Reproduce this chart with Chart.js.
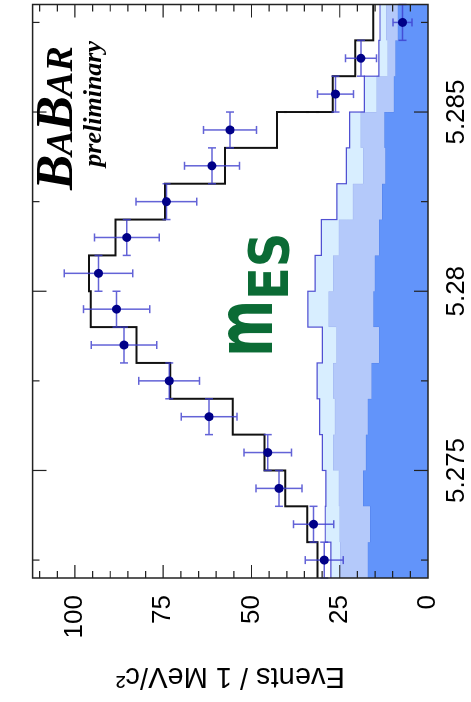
<!DOCTYPE html>
<html><head><meta charset="utf-8">
<script src="https://cdn.jsdelivr.net/npm/chart.js@4.4.1/dist/chart.umd.min.js"></script>
<style>
html,body{margin:0;padding:0;background:#fff;overflow:hidden;width:471px;height:702px;}
#wrap{position:absolute;left:0;top:0;width:702px;height:471px;transform-origin:0 0;transform:translate(0px,702px) rotate(-90deg);background:#fff;}
canvas{display:block;}
</style></head><body>
<div id="wrap"><canvas id="c" width="702" height="471"></canvas></div>
<script>
// mES bin centres (GeV/c^2), 1 MeV bins
const binCenters = [5.2725,5.2735,5.2745,5.2755,5.2765,5.2775,5.2785,5.2795,5.2805,5.2815,5.2825,5.2835,5.2845,5.2855,5.2865,5.2875];
// data points and their errors (events / 1 MeV)
const dataValues = [29.4,32.4,42.2,45.4,62.0,73.3,86.1,88.2,93.3,85.3,74.1,61.2,56.1,26.2,19.0,7.2];
const dataErrors = [5.4,5.7,6.5,6.7,7.9,8.6,9.3,9.4,9.7,9.2,8.6,7.8,7.5,5.1,4.4,2.7];
// total fit (black histogram)
const totalFit = [31.3,34.2,40.4,46.3,55.3,73.0,82.6,95.5,96.0,88.5,74.5,57.5,42.8,27.0,20.6,15.5];
// stacked background components (cumulative tops)
const bkgDark  = [17.1,16.4,18.4,17.6,17.1,16.0,13.9,15.5,15.1,13.9,13.0,12.1,12.4,9.7,9.3,8.6];
const bkgMid   = [24.9,25.1,25.3,26.9,26.4,26.9,26.0,28.2,26.9,25.3,21.3,18.4,19.1,14.6,11.5,11.9];
const bkgLight = [27.5,29.1,28.9,29.9,30.7,31.4,29.9,34.0,32.0,30.2,25.8,23.1,22.2,18.0,13.9,13.6];
// axis ticks
const xTickLabels = [5.275,5.28,5.285];
const xMinorTicks = [5.2725,5.275,5.2775,5.28,5.2825,5.285,5.2875];
const yTickLabels = [0,25,50,75,100];
const yMinorStep = 5;
const xRange = [5.272,5.288];
const yRange = [0,112];

const halfBin = 0.0005;
function stepPoints(vals){
  const pts = vals.map((v,i)=>({x: binCenters[i]-halfBin, y: v}));
  pts.push({x: binCenters[binCenters.length-1]+halfBin, y: vals[vals.length-1]});
  return pts;
}

const decor = {
  id:'decor',
  beforeDatasetDraw(chart, args){
    if (args.index !== 4) return;
    const ctx = chart.ctx, xs = chart.scales.x, ys = chart.scales.y;
    ctx.save();
    ctx.strokeStyle = 'rgba(60,60,205,0.8)';
    ctx.lineWidth = 1.5;
    const cap = 4;
    dataValues.forEach((v,i)=>{
      const px = xs.getPixelForValue(binCenters[i]);
      const py = ys.getPixelForValue(v);
      const y1 = ys.getPixelForValue(v - dataErrors[i]);
      const y2 = ys.getPixelForValue(v + dataErrors[i]);
      const x1 = xs.getPixelForValue(binCenters[i]-halfBin);
      const x2 = xs.getPixelForValue(binCenters[i]+halfBin);
      ctx.beginPath();
      ctx.moveTo(px,y1); ctx.lineTo(px,y2);
      ctx.moveTo(px-cap,y1); ctx.lineTo(px+cap,y1);
      ctx.moveTo(px-cap,y2); ctx.lineTo(px+cap,y2);
      ctx.moveTo(x1,py); ctx.lineTo(x2,py);
      ctx.moveTo(x1,py-cap); ctx.lineTo(x1,py+cap);
      ctx.moveTo(x2,py-cap); ctx.lineTo(x2,py+cap);
      ctx.stroke();
    });
    ctx.restore();
  },
  afterDraw(chart){
    const ctx = chart.ctx, xs = chart.scales.x, ys = chart.scales.y, a = chart.chartArea;
    ctx.save();
    ctx.strokeStyle = '#222';
    ctx.lineWidth = 1.5;
    ctx.strokeRect(a.left, a.top, a.right-a.left, a.bottom-a.top);
    ctx.lineWidth = 1.2;
    ctx.beginPath();
    xMinorTicks.forEach(t=>{
      const p = xs.getPixelForValue(t);
      const len = xTickLabels.some(m=>Math.abs(m-t)<1e-9) ? 14 : 7;
      ctx.moveTo(p, a.bottom); ctx.lineTo(p, a.bottom-len);
      ctx.moveTo(p, a.top); ctx.lineTo(p, a.top+len);
    });
    for (let t = yMinorStep; t < yRange[1]; t += yMinorStep){
      const p = ys.getPixelForValue(t);
      const len = (t % 25 === 0) ? 13 : 7;
      ctx.moveTo(a.left, p); ctx.lineTo(a.left+len, p);
      ctx.moveTo(a.right, p); ctx.lineTo(a.right-len, p);
    }
    ctx.stroke();

    // BaBar logo
    ctx.fillStyle = '#000';
    ctx.textBaseline = 'alphabetic';
    let u = 512;
    const parts = [['B',53],['A',38],['B',53],['AR',38]];
    parts.forEach(([s,sz])=>{
      ctx.font = 'italic bold '+sz+'px "Liberation Serif"';
      ctx.fillText(s, u, 72);
      u += ctx.measureText(s).width - 1;
    });
    ctx.font = 'italic bold 26px "Liberation Serif"';
    ctx.textAlign = 'right';
    ctx.fillText('preliminary', 661, 101);
    ctx.textAlign = 'left';

    // m_ES label
    ctx.fillStyle = '#0b6b35';
    ctx.save();
    ctx.translate(345, 272); ctx.scale(1, 1.43);
    ctx.font = 'bold 55px "DejaVu Sans"';
    ctx.fillText('m', 0, 0);
    ctx.restore();
    ctx.save();
    ctx.translate(402, 288); ctx.scale(1, 1.14);
    ctx.font = 'bold 48px "DejaVu Sans"';
    ctx.fillText('ES', 0, 0);
    ctx.restore();
    ctx.restore();
  }
};

const tickFont = {family:'"Liberation Sans", Arial, sans-serif', size:26};

new Chart(document.getElementById('c'), {
  type:'line',
  data:{datasets:[
    {label:'bkg1', data: stepPoints(bkgDark), stepped:true, fill:'origin',
     backgroundColor:'rgb(98,148,250)', borderColor:'rgb(85,130,235)', borderWidth:1, pointRadius:0, order:5},
    {label:'bkg2', data: stepPoints(bkgMid), stepped:true, fill:'-1',
     backgroundColor:'rgb(180,201,250)', borderColor:'rgb(160,182,240)', borderWidth:1, pointRadius:0, order:4},
    {label:'bkg3', data: stepPoints(bkgLight), stepped:true, fill:'-1',
     backgroundColor:'rgb(216,238,255)', borderColor:'rgb(80,80,210)', borderWidth:1.2, pointRadius:0, order:3},
    {label:'fit', data: stepPoints(totalFit), stepped:true, fill:false,
     borderColor:'#111', borderWidth:2, pointRadius:0, order:2},
    {label:'data', data: dataValues.map((v,i)=>({x:binCenters[i], y:v})), showLine:false,
     pointRadius:4.5, pointBackgroundColor:'#000088', pointBorderColor:'#000088', pointBorderWidth:0, order:1}
  ]},
  options:{
    responsive:false, animation:false, devicePixelRatio:1,
    parsing:true,
    layout:{padding:{left:0, top:9, right:2, bottom:0}},
    plugins:{legend:{display:false}, tooltip:{enabled:false}},
    scales:{
      x:{type:'linear', min:xRange[0], max:xRange[1],
        grid:{display:false, drawTicks:false}, border:{display:false},
        afterBuildTicks: s => { s.ticks = xTickLabels.map(v=>({value:v})); },
        afterFit: s => { s.height = 43; },
        ticks:{font:tickFont, color:'#000', padding:13, maxRotation:0, autoSkip:false,
          callback: v => String(v)}
      },
      y:{type:'linear', min:yRange[0], max:yRange[1],
        grid:{display:false, drawTicks:false}, border:{display:false},
        afterBuildTicks: s => { s.ticks = yTickLabels.map(v=>({value:v})); },
        afterFit: s => { s.width = 124; },
        ticks:{font:tickFont, color:'#000', padding:17, autoSkip:false, callback: v => String(v)},
        title:{display:true, text:'Events / 1 MeV/c²', color:'#000',
          font:{family:'"Liberation Sans", Arial, sans-serif', size:29}, padding:{top:9, bottom:0}}
      }
    }
  },
  plugins:[decor]
});
</script>
</body></html>
